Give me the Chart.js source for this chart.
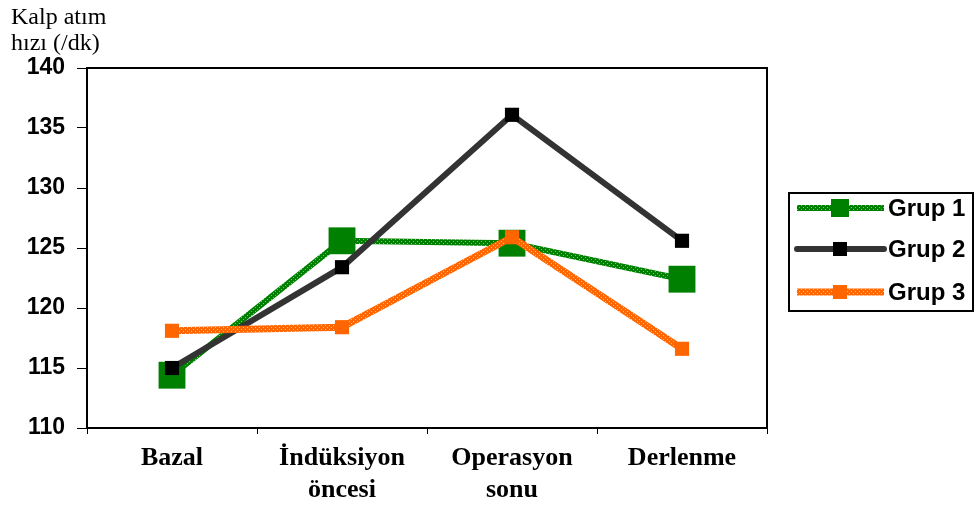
<!DOCTYPE html>
<html>
<head>
<meta charset="utf-8">
<script src="https://cdn.jsdelivr.net/npm/chart.js@4.4.0/dist/chart.umd.min.js"></script>
<style>
  body { margin: 0; background: #fff; }
  #wrap { position: relative; width: 979px; height: 511px; }
  #yTitle { position: absolute; left: 11px; top: 3px; font: 24px "Liberation Serif", "Times New Roman", serif; line-height: 26px; color: #000; }
</style>
</head>
<body>
<div id="wrap">
  <canvas id="chart" width="979" height="511"></canvas>
  <div id="yTitle">Kalp atım<br>hızı (/dk)</div>
</div>
<script>
const categories = [['Bazal'], ['İndüksiyon', 'öncesi'], ['Operasyon', 'sonu'], ['Derlenme']];
const seriesNames = ['Grup 1', 'Grup 2', 'Grup 3'];
const grup1 = [114.4, 125.6, 125.4, 122.4];
const grup2 = [115.0, 123.4, 136.1, 125.6];
const grup3 = [118.1, 118.4, 125.9, 116.6];
const yTicks = [110, 115, 120, 125, 130, 135, 140];

function hatch(base, light) {
    const c = document.createElement('canvas');
    c.width = c.height = 4;
    const g = c.getContext('2d');
    g.fillStyle = base;
    g.fillRect(0, 0, 4, 4);
    g.fillStyle = light;
    g.fillRect(1, 1, 1, 1);
    g.fillRect(3, 3, 1, 1);
    return g.createPattern(c, 'repeat');
}

const greenLine = hatch('#008000', '#7fc07f');
const orangeLine = hatch('#ff6600', '#ffc09a');

const styles = [
    { line: greenLine, point: '#008000', width: 6, radius: 19, legendSize: 18 },
    { line: '#333333', point: '#000000', width: 6, radius: 10, legendSize: 14 },
    { line: orangeLine, point: '#ff6600', width: 7, radius: 10, legendSize: 14 }
];

// plot box + legend on the right
const boxAndLegend = {
    id: 'boxAndLegend',
    beforeDatasetsDraw(chart) {
        const { ctx, chartArea: a } = chart;
        ctx.save();
        ctx.strokeStyle = '#000';
        ctx.lineWidth = 2;
        ctx.strokeRect(a.left, a.top, a.right - a.left, a.bottom - a.top);
        ctx.restore();
    },
    afterDraw(chart) {
        const ctx = chart.ctx;
        ctx.save();
        ctx.strokeStyle = '#000';
        ctx.lineWidth = 2;
        ctx.strokeRect(789, 193, 184, 118);
        ctx.font = 'bold 24px "Liberation Sans", Arial, sans-serif';
        ctx.textBaseline = 'middle';
        ctx.fillStyle = '#000';
        const rows = [208, 249, 292];
        chart.data.datasets.forEach((ds, i) => {
            const y = rows[i];
            const s = styles[i];
            ctx.strokeStyle = s.line;
            ctx.lineWidth = s.width;
            ctx.lineCap = i === 1 ? 'round' : 'butt';
            ctx.beginPath();
            ctx.moveTo(797, y);
            ctx.lineTo(884, y);
            ctx.stroke();
            ctx.fillStyle = s.point;
            ctx.fillRect(840 - s.legendSize / 2, y - s.legendSize / 2, s.legendSize, s.legendSize);
            ctx.fillStyle = '#000';
            ctx.fillText(ds.label, 888, y + 1);
        });
        ctx.restore();
    }
};

const datasets = [grup1, grup2, grup3].map((values, i) => ({
    label: seriesNames[i],
    data: values,
    borderColor: styles[i].line,
    borderWidth: styles[i].width,
    backgroundColor: styles[i].point,
    pointBackgroundColor: styles[i].point,
    pointBorderColor: styles[i].point,
    pointBorderWidth: 0,
    pointStyle: 'rect',
    pointRadius: styles[i].radius,
    tension: 0,
    fill: false,
    order: 3 - i
}));

new Chart(document.getElementById('chart'), {
    type: 'line',
    data: { labels: categories, datasets },
    options: {
        responsive: false,
        animation: false,
        events: [],
        layout: { padding: { top: 68, right: 212, bottom: 0, left: 0 } },
        plugins: { legend: { display: false }, tooltip: { enabled: false } },
        scales: {
            x: {
                offset: true,
                afterFit: s => { s.height = 83; },
                grid: { drawOnChartArea: false, drawTicks: true, tickLength: 6, color: '#000', offset: true },
                border: { color: '#000', width: 2 },
                ticks: {
                    color: '#000',
                    padding: 8,
                    maxRotation: 0,
                    autoSkip: false,
                    font: { family: '"Liberation Serif", "Times New Roman", serif', size: 26, weight: 'bold', lineHeight: 1.23 }
                }
            },
            y: {
                min: 110,
                max: 140,
                afterFit: s => { s.width = 87; },
                afterBuildTicks: s => { s.ticks = yTicks.map(v => ({ value: v })); },
                grid: { drawOnChartArea: false, drawTicks: true, tickLength: 10, color: '#000' },
                border: { color: '#000', width: 2 },
                ticks: {
                    color: '#000',
                    padding: 12,
                    font: { family: '"Liberation Sans", Arial, sans-serif', size: 23, weight: 'bold' }
                }
            }
        }
    },
    plugins: [boxAndLegend]
});
</script>
</body>
</html>
